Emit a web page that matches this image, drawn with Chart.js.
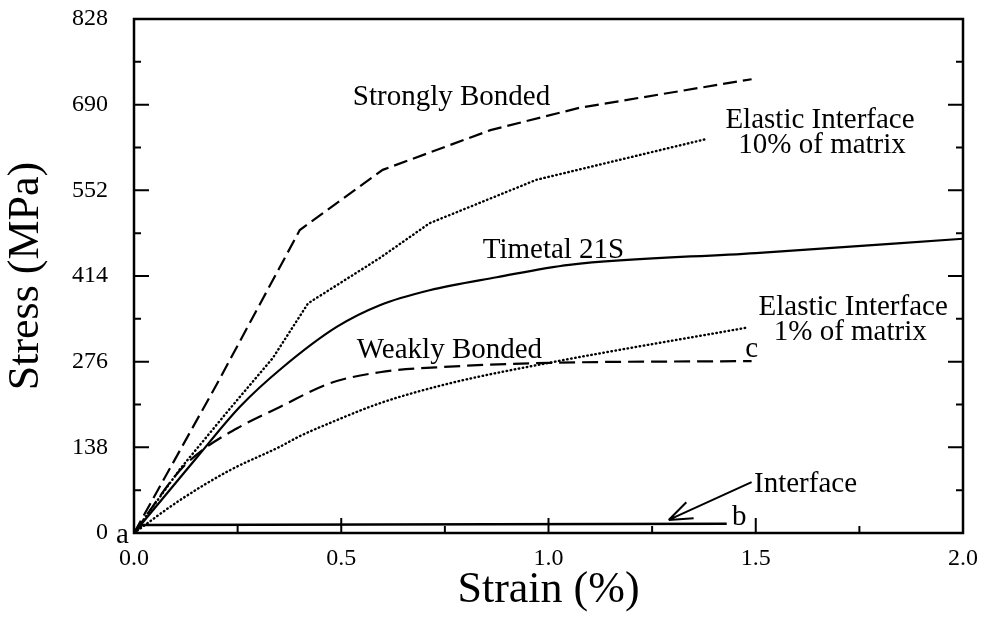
<!DOCTYPE html>
<html lang="en">
<head>
<meta charset="UTF-8">
<title>Stress vs Strain</title>
<script src="https://cdn.jsdelivr.net/npm/chart.js"></script>
<style>
  html, body { margin: 0; padding: 0; background: #fff; }
</style>
</head>
<body>
<canvas id="stressChart" width="983" height="617"></canvas>
<script>
// axis ticks
const xTicks = [0, 0.5, 1.0, 1.5, 2.0];
const yTicks = [0, 138, 276, 414, 552, 690, 828];

// curves (strain %, stress MPa)
const strongStrain = [0, 0.2, 0.4, 0.6, 0.86, 1.075, 1.49];
const strongStress = [0, 240, 488, 585, 649, 685, 731];

const el10Strain = [0, 0.111, 0.231, 0.335, 0.42, 0.593, 0.713, 0.971, 1.383];
const el10Stress = [0, 103, 200, 282, 370, 443, 499, 569, 635];

const timetalStrain = [0, 0.152, 0.255, 0.359, 0.489, 0.593, 0.713, 0.875, 1.05, 1.5, 2.0];
const timetalStress = [0, 122, 203, 267, 332, 367, 391, 412, 432, 451, 474];

const weakStrain = [0, 0.111, 0.166, 0.255, 0.352, 0.472, 0.593, 0.761, 1.0, 1.49];
const weakStress = [0, 101, 134, 171, 203, 241, 259, 268, 274, 277];

const el1Strain = [0, 0.111, 0.231, 0.352, 0.4, 0.472, 0.593, 0.761, 1.0, 1.48];
const el1Stress = [0, 53, 101, 139, 156, 177, 209, 241, 274, 331];

const interfaceStrain = [0, 0.02, 1.43];
const interfaceStress = [0, 13, 15];

// text labels placed in data coordinates (centre x, baseline y)
const labels = [
    { text: 'Strongly Bonded', x: 0.766, y: 689 },
    { text: 'Elastic Interface', x: 1.655, y: 652 },
    { text: '10% of matrix', x: 1.66, y: 612 },
    { text: 'Timetal 21S', x: 1.012, y: 443 },
    { text: 'Elastic Interface', x: 1.735, y: 351 },
    { text: '1% of matrix', x: 1.728, y: 311 },
    { text: 'Weakly Bonded', x: 0.761, y: 282 },
    { text: 'c', x: 1.49, y: 283 },
    { text: 'Interface', x: 1.62, y: 66 },
    { text: 'b', x: 1.46, y: 13 },
    { text: 'a', x: -0.028, y: -16 }
];
const arrowFrom = { x: 1.49, y: 82 };
const arrowTo = { x: 1.29, y: 21 };

const SERIF = '"Liberation Serif", "Times New Roman", serif';

function pts(xs, ys) {
    return xs.map((x, i) => ({ x: x, y: ys[i] }));
}

function noPad(s) {
    s.paddingTop = 0; s.paddingBottom = 0; s.paddingLeft = 0; s.paddingRight = 0;
}

// frame with inward ticks, labels and arrow
const framePlugin = {
    id: 'frame',
    afterDatasetsDraw(chart) {
        const ctx = chart.ctx;
        const a = chart.chartArea;
        const xs = chart.scales.x, ys = chart.scales.y;
        ctx.save();
        ctx.strokeStyle = '#000';
        ctx.lineWidth = 2.5;
        ctx.strokeRect(a.left, a.top, a.right - a.left, a.bottom - a.top);

        ctx.lineWidth = 2;
        for (let v = 0; v <= 828; v += 69) {
            const py = ys.getPixelForValue(v);
            const len = (v % 138 === 0) ? 15 : 7;
            ctx.beginPath();
            ctx.moveTo(a.left, py); ctx.lineTo(a.left + len, py);
            ctx.moveTo(a.right, py); ctx.lineTo(a.right - len, py);
            ctx.stroke();
        }
        for (let i = 0; i <= 8; i++) {
            const v = i * 0.25;
            const px = xs.getPixelForValue(v);
            const len = (i % 2 === 0) ? 15 : 7;
            ctx.beginPath();
            ctx.moveTo(px, a.bottom); ctx.lineTo(px, a.bottom - len);
            ctx.stroke();
        }

        ctx.fillStyle = '#000';
        ctx.font = '29px ' + SERIF;
        ctx.textAlign = 'center';
        ctx.textBaseline = 'alphabetic';
        labels.forEach(l => {
            ctx.fillText(l.text, xs.getPixelForValue(l.x), ys.getPixelForValue(l.y));
        });

        // arrow pointing at the interface curve
        const x1 = xs.getPixelForValue(arrowFrom.x), y1 = ys.getPixelForValue(arrowFrom.y);
        const x2 = xs.getPixelForValue(arrowTo.x), y2 = ys.getPixelForValue(arrowTo.y);
        const ang = Math.atan2(y1 - y2, x1 - x2);
        ctx.lineWidth = 2;
        ctx.beginPath();
        ctx.moveTo(x1, y1); ctx.lineTo(x2, y2);
        [-0.36, 0.36].forEach(d => {
            ctx.moveTo(x2, y2);
            ctx.lineTo(x2 + 25 * Math.cos(ang + d), y2 + 25 * Math.sin(ang + d));
        });
        ctx.stroke();
        ctx.restore();
    }
};

const dotted = { borderDash: [0.5, 3.6], borderCapStyle: 'round', borderWidth: 2.4 };

new Chart(document.getElementById('stressChart'), {
    type: 'line',
    data: {
        datasets: [
            { label: 'Strongly Bonded', data: pts(strongStrain, strongStress),
              borderDash: [14, 6], borderWidth: 2.2, tension: 0 },
            Object.assign({ label: 'Elastic Interface 10% of matrix', data: pts(el10Strain, el10Stress),
              tension: 0 }, dotted),
            { label: 'Timetal 21S', data: pts(timetalStrain, timetalStress),
              borderWidth: 2.2, cubicInterpolationMode: 'monotone' },
            { label: 'Weakly Bonded', data: pts(weakStrain, weakStress),
              borderDash: [16, 7], borderWidth: 2.2, cubicInterpolationMode: 'monotone' },
            Object.assign({ label: 'Elastic Interface 1% of matrix', data: pts(el1Strain, el1Stress),
              cubicInterpolationMode: 'monotone' }, dotted),
            { label: 'Interface', data: pts(interfaceStrain, interfaceStress),
              borderWidth: 2.6, tension: 0 }
        ].map(d => Object.assign({ borderColor: '#000', pointRadius: 0, fill: false }, d))
    },
    options: {
        responsive: false,
        animation: false,
        layout: { padding: { top: 19, right: 20, left: 0, bottom: 0 } },
        plugins: { legend: { display: false }, tooltip: { enabled: false } },
        scales: {
            x: {
                type: 'linear', min: 0, max: 2,
                afterBuildTicks: s => { s.ticks = xTicks.map(v => ({ value: v })); },
                afterFit: s => { s.height = 84; noPad(s); },
                grid: { display: false, drawTicks: false },
                border: { display: false },
                ticks: { padding: 11, color: '#000', font: { family: SERIF, size: 24 },
                         maxRotation: 0, callback: v => v.toFixed(1) },
                title: { display: true, text: 'Strain (%)', color: '#000',
                         font: { family: SERIF, size: 44 }, padding: { top: 0, bottom: 0 } }
            },
            y: {
                type: 'linear', min: 0, max: 828,
                afterBuildTicks: s => { s.ticks = yTicks.map(v => ({ value: v })); },
                afterFit: s => { s.width = 134; noPad(s); },
                grid: { display: false, drawTicks: false },
                border: { display: false },
                ticks: { padding: 26, color: '#000', font: { family: SERIF, size: 24 } },
                title: { display: true, text: 'Stress (MPa)', color: '#000',
                         font: { family: SERIF, size: 44 }, padding: { top: 0, bottom: 0 } }
            }
        }
    },
    plugins: [framePlugin]
});
</script>
</body>
</html>
